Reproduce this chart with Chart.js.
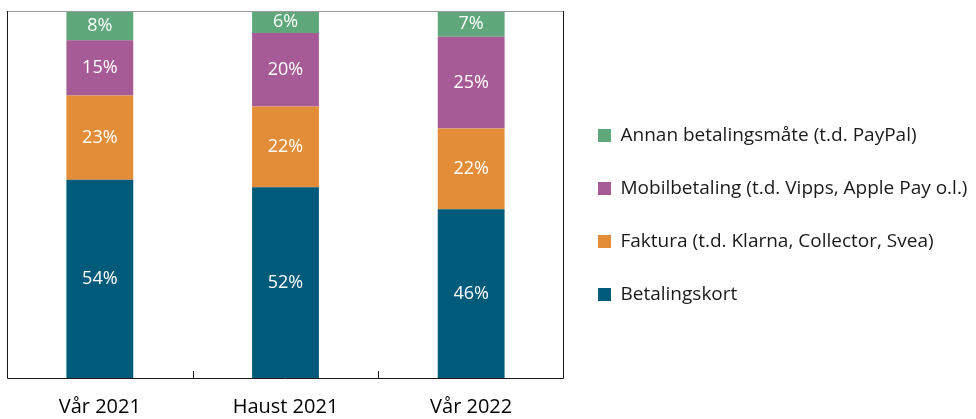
<!DOCTYPE html>
<html lang="no">
<head>
    <meta charset="UTF-8">
    <title>Betalingsmåtar</title>
    <script src="https://cdn.jsdelivr.net/npm/chart.js"></script>
    <style>
        body { margin: 0; background: #fff; }
        #wrap { width: 976px; height: 419px; }
    </style>
</head>
<body>
    <div id="wrap"><canvas id="chart" width="976" height="419"></canvas></div>

    <script>
        // Data
        const periods = ['Vår 2021', 'Haust 2021', 'Vår 2022'];
        const betalingskort = [54, 52, 46];
        const faktura = [23, 22, 22];
        const mobilbetaling = [15, 20, 25];
        const annan = [8, 6, 7];

        const seriesNames = [
            'Betalingskort',
            'Faktura (t.d. Klarna, Collector, Svea)',
            'Mobilbetaling (t.d. Vipps, Apple Pay o.l.)',
            'Annan betalingsmåte (t.d. PayPal)'
        ];
        const seriesColors = ['#005a7a', '#e38d38', '#a65a96', '#5fa87b'];

        const fontFamily = '"Open Sans", Lato, sans-serif';

        // white percentage labels in the middle of each segment
        const segmentLabels = {
            id: 'segmentLabels',
            afterDatasetsDraw(chart) {
                const ctx = chart.ctx;
                ctx.save();
                ctx.fillStyle = '#ffffff';
                ctx.font = '18px ' + fontFamily;
                ctx.textAlign = 'center';
                ctx.textBaseline = 'middle';
                chart.data.datasets.forEach((ds, i) => {
                    chart.getDatasetMeta(i).data.forEach((bar, j) => {
                        const mid = (bar.y + bar.base) / 2;
                        ctx.fillText(ds.data[j] + '%', bar.x, mid);
                    });
                });
                ctx.restore();
            }
        };

        // frame around the plot and small inner ticks between categories
        const frame = {
            id: 'frame',
            afterDraw(chart) {
                const {ctx, chartArea: a} = chart;
                const x = chart.scales.x;
                ctx.save();
                ctx.lineWidth = 1;
                ctx.strokeStyle = '#999999';
                ctx.beginPath();
                ctx.moveTo(a.left, a.top + 0.5);
                ctx.lineTo(a.right, a.top + 0.5);
                ctx.stroke();
                ctx.strokeStyle = '#1a1a1a';
                ctx.beginPath();
                ctx.moveTo(a.left + 0.5, a.top);
                ctx.lineTo(a.left + 0.5, a.bottom + 0.5);
                ctx.lineTo(a.right - 0.5, a.bottom + 0.5);
                ctx.lineTo(a.right - 0.5, a.top);
                ctx.stroke();
                for (let i = 0; i < periods.length - 1; i++) {
                    const px = Math.round((x.getPixelForValue(i) + x.getPixelForValue(i + 1)) / 2) + 0.5;
                    ctx.beginPath();
                    ctx.moveTo(px, a.bottom);
                    ctx.lineTo(px, a.bottom - 7);
                    ctx.stroke();
                }
                ctx.restore();
            }
        };

        const values = [betalingskort, faktura, mobilbetaling, annan];

        new Chart(document.getElementById('chart'), {
            type: 'bar',
            data: {
                labels: periods,
                datasets: values.map((v, i) => ({
                    label: seriesNames[i],
                    data: v,
                    backgroundColor: seriesColors[i],
                    borderWidth: 0,
                    categoryPercentage: 1,
                    barPercentage: 0.36
                }))
            },
            options: {
                responsive: false,
                animation: false,
                layout: { padding: { left: 7, top: 11, right: 0, bottom: 0 } },
                scales: {
                    x: {
                        stacked: true,
                        grid: { display: false, tickLength: 17 },
                        border: { display: false },
                        ticks: {
                            color: '#000',
                            padding: 0,
                            font: { family: fontFamily, size: 20 }
                        }
                    },
                    y: {
                        stacked: true,
                        display: false,
                        min: 0,
                        max: 100
                    }
                },
                plugins: {
                    tooltip: { enabled: false },
                    legend: {
                        position: 'right',
                        reverse: true,
                        maxWidth: 412,
                        labels: {
                            boxWidth: 13,
                            boxHeight: 13,
                            padding: 34,
                            color: '#1a1a1a',
                            font: { family: fontFamily, size: 19 }
                        }
                    }
                }
            },
            plugins: [segmentLabels, frame]
        });
    </script>
</body>
</html>
